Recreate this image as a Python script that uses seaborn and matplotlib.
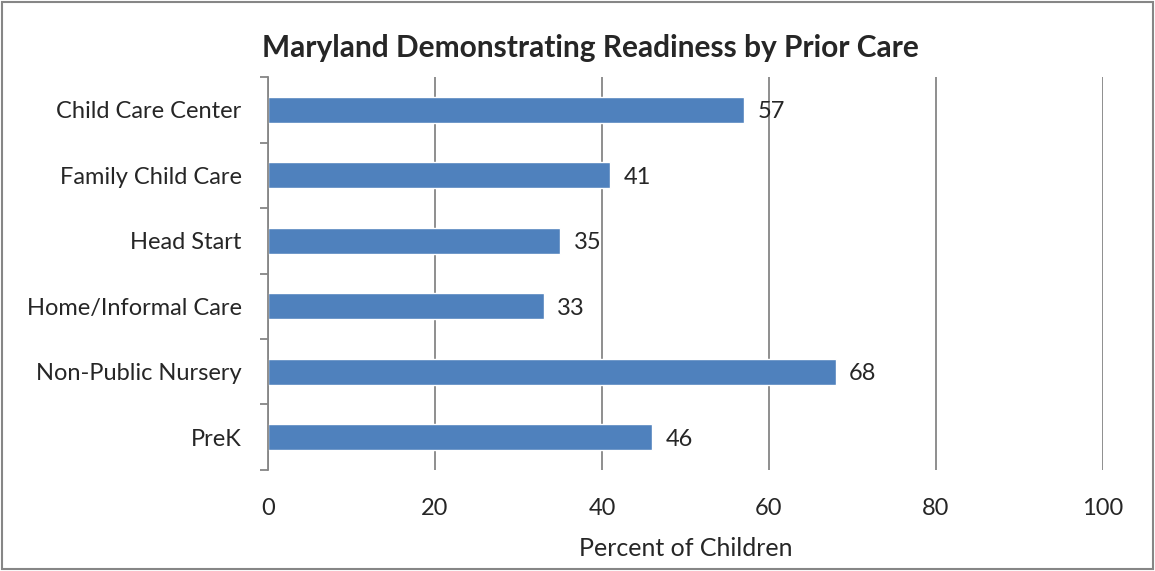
import pandas as pd
import matplotlib.pyplot as plt
import seaborn as sns
from matplotlib.patches import Rectangle

# values
care_types = ['Child Care Center', 'Family Child Care', 'Head Start',
              'Home/Informal Care', 'Non-Public Nursery', 'PreK']
percent = [57, 41, 35, 33, 68, 46]

df = pd.DataFrame({'Care': care_types, 'Percent': percent})

sns.set_style('white')
plt.rcParams['font.family'] = ['Lato', 'DejaVu Sans']

fig = plt.figure(figsize=(11.55, 5.71), dpi=100)
ax = fig.add_axes([0.232, 0.177, 0.723, 0.688])

sns.barplot(data=df, x='Percent', y='Care', orient='h', color='#4F81BD',
            saturation=1, width=0.4, ax=ax)

for i, v in enumerate(percent):
    ax.text(v + 1.6, i + 0.03, str(v), va='center', ha='left', fontsize=17)

ax.set_xlim(0, 100)
ax.set_ylim(5.5, -0.5)
ax.set_xticks(range(0, 101, 20))
ax.xaxis.grid(True, color='#868686', linewidth=1.3)
ax.set_axisbelow(True)
for s in ['top', 'right', 'bottom']:
    ax.spines[s].set_visible(False)
ax.spines['left'].set_color('#868686')
ax.spines['left'].set_linewidth(1.3)

ax.tick_params(axis='x', length=0, labelsize=17, pad=20)
ax.tick_params(axis='y', which='major', length=0, labelsize=17, pad=19)
ax.set_yticks([x - 0.5 for x in range(7)], minor=True)
ax.tick_params(axis='y', which='minor', left=True, length=6, width=1.3,
               color='#868686', direction='out')

ax.set_xlabel('Percent of Children', fontsize=18, labelpad=13)
ax.set_ylabel('')
fig.suptitle('Maryland Demonstrating Readiness by Prior Care', fontsize=21.5,
             fontweight='bold', x=0.511, y=0.94)

# chart border
fig.patches.append(Rectangle((0.002, 0.004), 0.996, 0.992, transform=fig.transFigure,
                             fill=False, edgecolor='#868686', linewidth=1.5))

plt.savefig('out.png', dpi=100)
